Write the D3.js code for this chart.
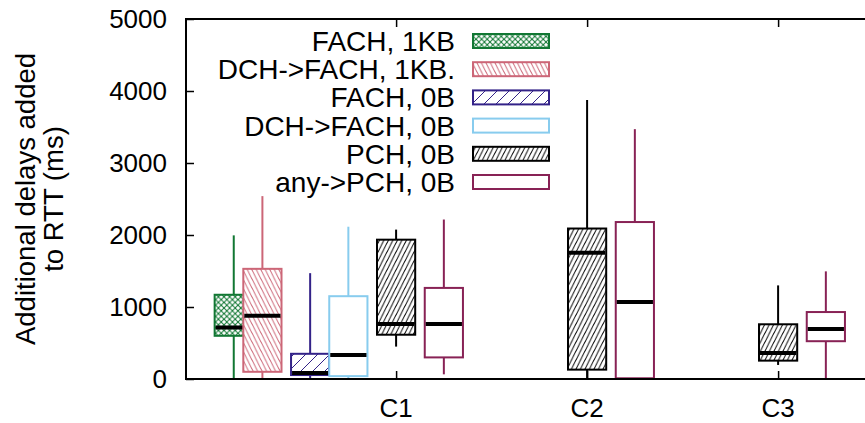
<!DOCTYPE html>
<html>
<head>
<meta charset="utf-8">
<script src="https://cdn.jsdelivr.net/npm/d3@7"></script>
<style>
  body { margin: 0; background: #fff; }
  text { font-family: "Liberation Sans", Arial, sans-serif; fill: #000; }
</style>
</head>
<body>
<div id="chart"></div>
<script>
"use strict";
// categories on the x axis
const categories = ['C1', 'C2', 'C3'];
const seriesNames = ['FACH, 1KB', 'DCH->FACH, 1KB.', 'FACH, 0B', 'DCH->FACH, 0B', 'PCH, 0B', 'any->PCH, 0B'];
const yTicks = [0, 1000, 2000, 3000, 4000, 5000];
// [whisker low, q1, median, q3, whisker high] per category, null = no box
const fach1kb = [[0, 600, 715, 1170, 1995], null, null];
const dchFach1kb = [[0, 100, 880, 1530, 2540], null, null];
const fach0b = [[0, 55, 85, 350, 1470], null, null];
const dchFach0b = [[0, 40, 335, 1150, 2115], null, null];
const pch0b = [[450, 615, 765, 1935, 2075], [0, 130, 1755, 2090, 3875], [195, 255, 360, 760, 1300]];
const anyPch0b = [[65, 300, 765, 1265, 2215], [0, 10, 1070, 2180, 3470], [0, 525, 695, 930, 1495]];
const seriesValues = [fach1kb, dchFach1kb, fach0b, dchFach0b, pch0b, anyPch0b];

const width = 865;
const height = 423;
const colors = ['#117733', '#CC6677', '#332288', '#88CCEE', '#000000', '#882255'];
const fills = ['url(#crossGreen)', 'url(#backRed)', 'url(#slashBlue)', '#fff', 'url(#slashBlack)', '#fff'];
const offsets = [-0.85, -0.7, -0.45, -0.25, 0, 0.25];
const boxW = 0.2;

const x = d3.scaleLinear().domain([-0.1, 3.5]).range([186, 186 + 3.6 * 191]);
const y = d3.scaleLinear().domain([0, 5000]).range([379, 19]);

const svg = d3.select('#chart').append('svg')
    .attr('width', width)
    .attr('height', height);

// hatch patterns
const defs = svg.append('defs');
const hatch = (id, w, h, color, lines, sw) => {
    const p = defs.append('pattern')
        .attr('id', id)
        .attr('patternUnits', 'userSpaceOnUse')
        .attr('width', w)
        .attr('height', h);
    p.append('rect').attr('width', w).attr('height', h).attr('fill', '#fff');
    lines.forEach(l => p.append('line')
        .attr('x1', l[0]).attr('y1', l[1]).attr('x2', l[2]).attr('y2', l[3])
        .attr('stroke', color).attr('stroke-width', sw));
};
const c = 5.6;
hatch('crossGreen', c, c, colors[0], [
    [-1, -1, c + 1, c + 1], [-1, c + 1, c + 1, -1],
    [-c - 1, -1, 1, c + 1], [c - 1, -1, 2 * c + 1, c + 1],
    [-1, 2 * c + 1, c + 1, c - 1]
], 1);
const r = 4.5;
hatch('backRed', r, 2 * r, colors[1], [
    [-r, -2 * r, 2 * r, 4 * r], [-2 * r, -2 * r, r, 4 * r], [0, -2 * r, 3 * r, 4 * r]
], 1);
hatch('slashBlack', r, 2 * r, colors[4], [
    [-r, 4 * r, 2 * r, -2 * r], [-2 * r, 4 * r, r, -2 * r], [0, 4 * r, 3 * r, -2 * r]
], 1);
const b = 12;
hatch('slashBlue', b, b, colors[2], [
    [-1, b + 1, b + 1, -1], [-b - 1, b + 1, 1, -1], [b - 1, b + 1, 2 * b + 1, -1]
], 1);

// boxes, series by series
seriesValues.forEach((vals, s) => {
    const g = svg.append('g');
    vals.forEach((v, i) => {
        if (!v) return;
        const cx = x(i + 1 + offsets[s]);
        const x0 = x(i + 1 + offsets[s] - boxW / 2);
        const x1 = x(i + 1 + offsets[s] + boxW / 2);
        g.append('line')
            .attr('x1', cx).attr('x2', cx)
            .attr('y1', y(v[0])).attr('y2', y(v[4]))
            .attr('stroke', colors[s]).attr('stroke-width', 2);
        g.append('rect')
            .attr('x', x0).attr('y', y(v[3]))
            .attr('width', x1 - x0).attr('height', y(v[1]) - y(v[3]))
            .attr('fill', fills[s])
            .attr('stroke', colors[s]).attr('stroke-width', 2);
        g.append('line')
            .attr('x1', x0 + 1).attr('x2', x1 - 1)
            .attr('y1', y(v[2])).attr('y2', y(v[2]))
            .attr('stroke', '#000').attr('stroke-width', 4);
    });
});

// frame
const frame = svg.append('g').attr('stroke', '#000').attr('stroke-width', 2).attr('fill', 'none');
frame.append('path')
    .attr('d', `M${x.range()[1]},${y(5000)}H${x(-0.1)}V${y(0)}H${x.range()[1]}`);

// y axis
const yAxis = svg.append('g')
    .attr('transform', `translate(${x(-0.1)},0)`)
    .call(d3.axisRight(y).tickValues(yTicks).tickSize(8).tickFormat(''));
yAxis.select('.domain').remove();
yAxis.selectAll('line').attr('stroke-width', 1.5);
svg.append('g').selectAll('text')
    .data(yTicks).join('text')
    .attr('x', 167)
    .attr('y', d => y(d))
    .attr('dy', '0.36em')
    .attr('text-anchor', 'end')
    .attr('font-size', 26)
    .text(d => d);

// x axis
const xBottom = svg.append('g')
    .attr('transform', `translate(0,${y(0)})`)
    .call(d3.axisTop(x).tickValues([1, 2, 3]).tickSize(8).tickFormat(''));
const xTop = svg.append('g')
    .attr('transform', `translate(0,${y(5000)})`)
    .call(d3.axisBottom(x).tickValues([1, 2, 3]).tickSize(8).tickFormat(''));
[xBottom, xTop].forEach(a => {
    a.select('.domain').remove();
    a.selectAll('line').attr('stroke-width', 1.5);
});
svg.append('g').selectAll('text')
    .data(categories).join('text')
    .attr('x', (d, i) => x(i + 1))
    .attr('y', 417)
    .attr('text-anchor', 'middle')
    .attr('font-size', 26)
    .text(d => d);

// y title
svg.append('text')
    .attr('transform', `translate(35,199) rotate(-90)`)
    .attr('text-anchor', 'middle')
    .attr('font-size', 27.5)
    .text('Additional delays added');
svg.append('text')
    .attr('transform', `translate(63,199) rotate(-90)`)
    .attr('text-anchor', 'middle')
    .attr('font-size', 27.5)
    .text('to RTT (ms)');

// legend
const legend = svg.append('g');
seriesNames.forEach((name, s) => {
    const cy = 41 + s * 28.2;
    legend.append('text')
        .attr('x', 455)
        .attr('y', cy)
        .attr('dy', '0.36em')
        .attr('text-anchor', 'end')
        .attr('font-size', 28)
        .text(name);
    legend.append('rect')
        .attr('x', 473).attr('y', cy - 7)
        .attr('width', 76).attr('height', 14)
        .attr('fill', fills[s])
        .attr('stroke', colors[s]).attr('stroke-width', 2);
});
</script>
</body>
</html>
